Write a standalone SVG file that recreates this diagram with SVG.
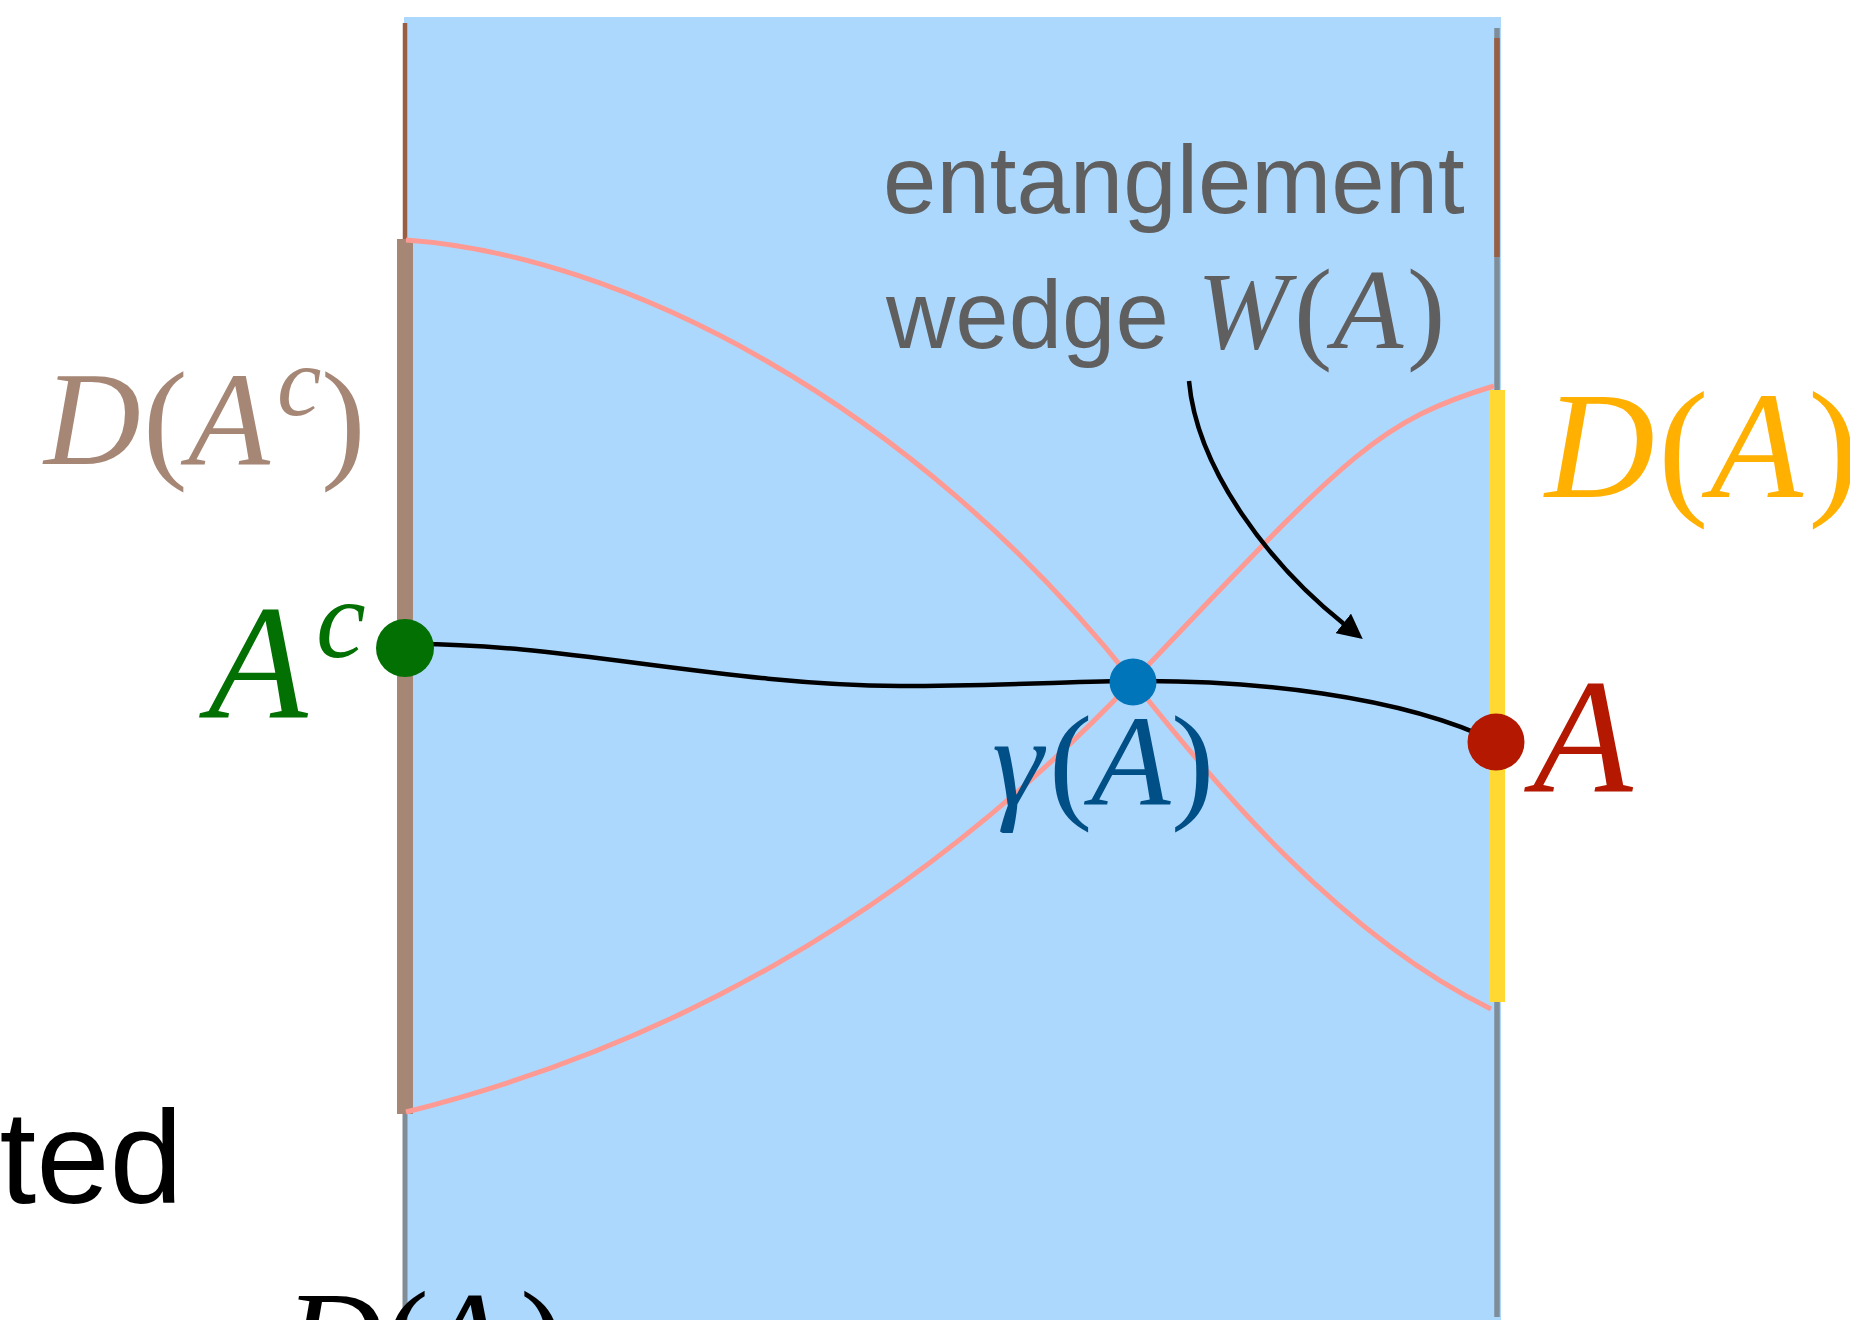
<svg xmlns="http://www.w3.org/2000/svg" width="1850" height="1320" viewBox="0 0 1850 1320">
<defs>
<style>
.pink{fill:none;stroke:#FD9A93;stroke-width:5}
.blk{fill:none;stroke:#000;stroke-width:4.5}
.serif{font-family:"Liberation Serif","Times New Roman",serif}
.it{font-style:italic}
.up{font-style:normal}
.sans{font-family:"Liberation Sans",Arial,sans-serif}
</style>
<marker id="ah" viewBox="0 0 25 25" refX="1" refY="12.5" markerWidth="25" markerHeight="25" markerUnits="userSpaceOnUse" orient="auto">
<path d="M0,0 L25,12.5 L0,25 z" fill="#000"/>
</marker>
</defs>
<rect width="1850" height="1320" fill="#fff"/>
<g id="bulk">
<rect x="404" y="17" width="1097" height="1310" fill="#ADD8FE"/>
</g>
<g id="boundaries">
<line x1="405" y1="1110" x2="405" y2="1320" stroke="#7F8D99" stroke-width="5"/>
<line x1="405" y1="23" x2="405" y2="242" stroke="#9A5E42" stroke-width="4.5"/>
<rect x="397" y="239" width="16" height="875" fill="#A68776"/>
<line x1="1497" y1="28" x2="1497" y2="1317" stroke="#7F8D99" stroke-width="5.5"/>
<line x1="1497" y1="38" x2="1497" y2="257" stroke="#9A5E42" stroke-width="5.5"/>
<rect x="1489" y="390" width="16" height="612" fill="#FFD932"/>
</g>
<g id="connectors">
<path class="pink" d="M406,240 C620,255 910,400 1133,681 C1215,785 1340,935 1491,1009"/>
<path class="pink" d="M406,1112 C656,1049.5 903,922.5 1133,681 C1343,460.5 1374,422 1494,386"/>
<path class="blk" d="M405,644 C560,642 720,685 900,686 C1000,686 1080,681 1133,681 C1250,680 1400,695 1496,742"/>
<path class="blk" stroke-width="4" marker-end="url(#ah)" d="M1189,381 C1197,470 1270,565 1344,624"/>
</g>
<g id="node-Ac">
<circle cx="405" cy="648" r="29" fill="#037003"/>
<text class="serif it" fill="#037003" font-size="163" x="208" y="717">A</text>
<text class="serif it" fill="#037003" font-size="112" x="316" y="657">c</text>
</g>
<g id="node-gamma">
<circle cx="1133" cy="682" r="23.5" fill="#0075BA"/>
<text class="serif it" fill="#004F86" font-size="130" y="805"><tspan x="992">γ</tspan><tspan class="up" x="1049">(</tspan><tspan x="1091">A</tspan><tspan class="up" x="1171">)</tspan></text>
</g>
<g id="node-A">
<circle cx="1496" cy="742" r="28.5" fill="#B41800"/>
<text class="serif it" fill="#B41800" font-size="163" x="1533" y="791">A</text>
</g>
<g id="label-DAc">
<text class="serif it" fill="#A68776" font-size="134" y="464"><tspan x="44">D</tspan><tspan class="up" x="143">(</tspan><tspan x="188">A</tspan><tspan class="up" x="321">)</tspan></text>
<text class="serif it" fill="#A68776" font-size="100" x="277" y="415">c</text>
</g>
<g id="label-DA">
<text class="serif it" fill="#FFB000" font-size="152" y="497"><tspan x="1545">D</tspan><tspan class="up" x="1658">(</tspan><tspan x="1710">A</tspan><tspan class="up" x="1808">)</tspan></text>
</g>
<g id="label-wedge">
<text class="sans" fill="#5F5F5F" font-size="96" x="883" y="213">entanglement</text>
<text class="sans" fill="#5F5F5F" font-size="96" x="886" y="348">wedge</text>
<text class="serif it" fill="#5F5F5F" font-size="115" y="348"><tspan x="1197" font-size="110">W</tspan><tspan class="up" x="1294">(</tspan><tspan x="1333">A</tspan><tspan class="up" x="1407">)</tspan></text>
</g>
<g id="label-bottom">
<text class="sans" fill="#000" font-size="132" x="183" y="1203" text-anchor="end">ted</text>
<text class="serif it" fill="#000" font-size="135" y="1385"><tspan x="285">D</tspan><tspan class="up" x="384">(</tspan><tspan x="423">A</tspan><tspan class="up" x="520">)</tspan></text>
</g>
</svg>
